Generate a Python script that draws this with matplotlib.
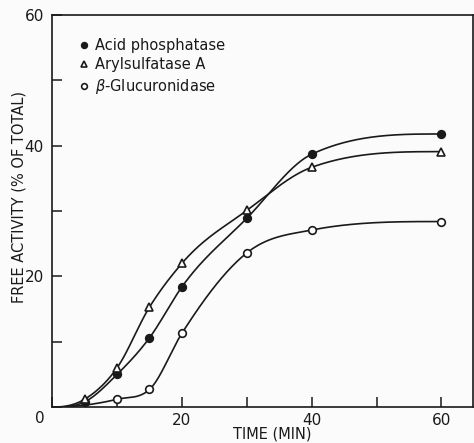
import numpy as np
import matplotlib.pyplot as plt
from matplotlib.ticker import MultipleLocator

# time points (min); 0 is the curve origin, drawn without a marker
acid_t = [0, 5, 10, 15, 20, 30, 40, 60]
acid_v = [0, 0.8, 5.0, 10.6, 18.4, 28.9, 38.7, 41.8]

aryl_t = [0, 5, 10, 15, 20, 30, 40, 60]
aryl_v = [0, 1.2, 6.0, 15.3, 22.0, 30.1, 36.7, 39.1]

gluc_t = [0, 10, 15, 20, 30, 40, 60]
gluc_v = [0, 1.2, 2.7, 11.3, 23.6, 27.1, 28.4]

labels = ["Acid phosphatase", "Arylsulfatase A", r"$\beta$-Glucuronidase"]

INK = "#1a1a1a"
BG = "#fbfbfb"


def smooth(x, y, n=400):
    # hand-drawn look: cubic Hermite curve through the points,
    # three-point slopes, clamped so it doesn't overshoot
    x = np.asarray(x, float)
    y = np.asarray(y, float)
    h = np.diff(x)
    d = np.diff(y) / h
    m = np.zeros_like(y)
    for k in range(1, len(x) - 1):
        m[k] = (h[k] * d[k - 1] + h[k - 1] * d[k]) / (h[k - 1] + h[k])
    m[0] = 0.0
    m[-1] = max(((2 * h[-1] + h[-2]) * d[-1] - h[-1] * d[-2]) / (h[-1] + h[-2]), 0)
    for k in range(len(h)):
        if d[k] > 0:
            m[k] = min(m[k], 3 * d[k])
            m[k + 1] = min(m[k + 1], 3 * d[k])
    xs = np.linspace(x[0], x[-1], n)
    k = np.clip(np.searchsorted(x, xs) - 1, 0, len(h) - 1)
    t = (xs - x[k]) / h[k]
    h00 = 2 * t**3 - 3 * t**2 + 1
    h10 = t**3 - 2 * t**2 + t
    h01 = -2 * t**3 + 3 * t**2
    h11 = t**3 - t**2
    ys = h00 * y[k] + h10 * h[k] * m[k] + h01 * y[k + 1] + h11 * h[k] * m[k + 1]
    return xs, ys


fig = plt.figure(figsize=(4.74, 4.43), dpi=100)
fig.patch.set_facecolor(BG)
ax = fig.add_axes([0.110, 0.081, 0.887, 0.885])
ax.set_facecolor(BG)

series = [
    (acid_t, acid_v, "o", INK, 5.5),
    (aryl_t, aryl_v, "^", "white", 6),
    (gluc_t, gluc_v, "o", "white", 5.5),
]
handles = []
for (t, v, mk, fc, ms), lab in zip(series, labels):
    xs, ys = smooth(t, v)
    ax.plot(xs, ys, color=INK, lw=1.2, zorder=2)
    h, = ax.plot(t[1:], v[1:], ls="none", marker=mk, mfc=fc, mec=INK,
                 mew=1.2, ms=ms, zorder=3, label=lab)
    handles.append(h)

ax.set_xlim(0, 64.8)
ax.set_ylim(0, 60)
ax.xaxis.set_minor_locator(MultipleLocator(10))
ax.yaxis.set_minor_locator(MultipleLocator(10))
ax.set_xticks([20, 40, 60])
ax.set_yticks([20, 40, 60])
ax.tick_params(which="both", direction="in", color=INK, width=1.1, length=7,
               labelsize=11, labelcolor=INK)
ax.tick_params(axis="x", pad=4)
ax.tick_params(axis="y", pad=6)
for s in ax.spines.values():
    s.set_color(INK)
    s.set_linewidth(1.2)

ax.text(-0.03, -0.03, "0", transform=ax.transAxes, ha="center", va="center",
        fontsize=11, color=INK)
ax.set_xlabel("TIME (MIN)", fontsize=10.5, color=INK)
ax.set_ylabel("FREE ACTIVITY (% OF TOTAL)", fontsize=10.5, color=INK)
ax.xaxis.set_label_coords(0.523, -0.05)
ax.yaxis.set_label_coords(-0.062, 0.535)

leg = ax.legend(handles=handles, loc="upper left", bbox_to_anchor=(0.035, 0.975),
                frameon=False, fontsize=10.5, handlelength=0.6, handletextpad=0.45,
                labelspacing=0.3, markerscale=0.75, labelcolor=INK)

fig.savefig("out.png", dpi=100, facecolor=fig.get_facecolor())
